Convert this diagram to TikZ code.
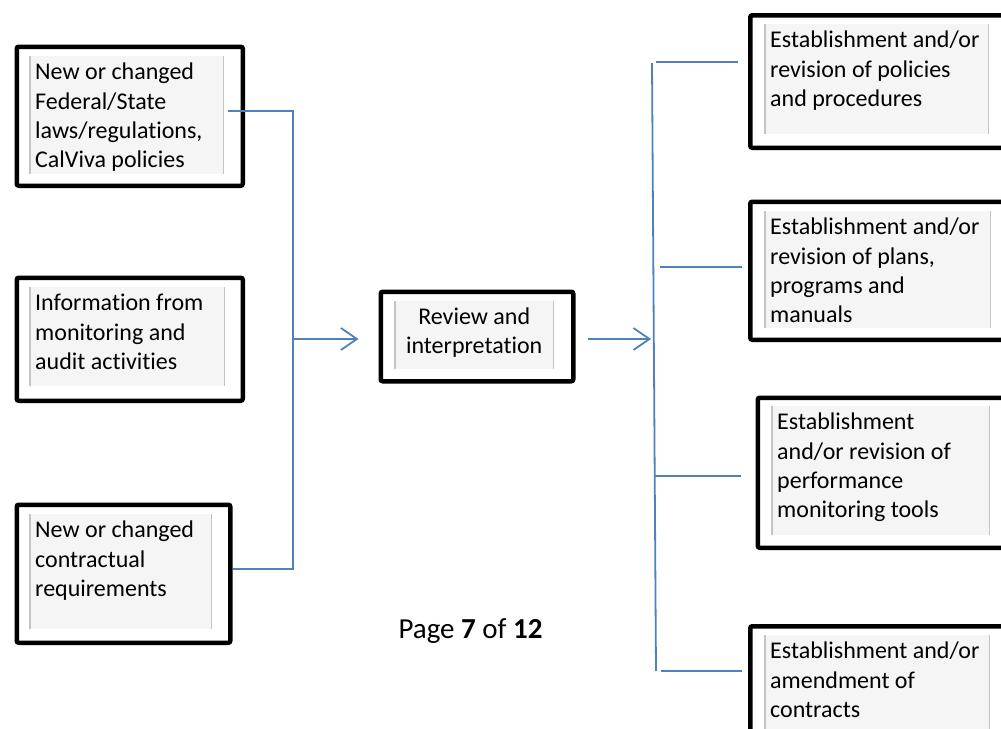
\documentclass[tikz,border=0pt]{standalone}
\usepackage{fontspec}
\setmainfont{Carlito}[Ligatures=NoCommon]
\usetikzlibrary{arrows.meta}
\definecolor{connblue}{RGB}{79,129,189}
\definecolor{innerfill}{RGB}{245,245,245}
\definecolor{innerrule}{RGB}{196,196,196}
\tikzset{
  outerbox/.style={draw=black, line width=4.5pt, rounded corners=2pt, anchor=north west, inner sep=0pt},
  innerbox/.style={fill=innerfill, anchor=north west, inner xsep=5pt, inner ysep=0pt, align=flush left,
    font=\fontsize{24}{29.3}\selectfont, text height=23.5pt,
    execute at begin node={\spaceskip=0pt\xspaceskip=0pt\relax}},
  siderule/.style={draw=innerrule, line width=1.5pt},
  link/.style={draw=connblue, line width=1.8pt},
  arr/.style={link, -{Straight Barb[length=16pt,width=22pt]}},
}
\begin{document}
\begin{tikzpicture}[x=1pt,y=-1pt]
\useasboundingbox (0,0) rectangle (1001,728);
\clip (0,0) rectangle (1001,728);
% outer boxes
\node[outerbox, minimum width=226pt, minimum height=139pt] (Ao) at (14.5,44.5) {};
\node[outerbox, minimum width=226pt, minimum height=123pt] (Bo) at (14.5,275.5) {};
\node[outerbox, minimum width=213.5pt, minimum height=138pt] (Co) at (14.5,502.5) {};
\node[outerbox, minimum width=192.5pt, minimum height=89.5pt] (Mo) at (378.5,289.5) {};
\node[outerbox, minimum width=262pt, minimum height=132.5pt] (R1o) at (748,13) {};
\node[outerbox, minimum width=262pt, minimum height=138pt] (R2o) at (748,199.5) {};
\node[outerbox, minimum width=255pt, minimum height=150pt] (R3o) at (755.5,395.5) {};
\node[outerbox, minimum width=262pt, minimum height=130pt] (R4o) at (748,624) {};
% inner boxes
\node[innerbox, text width=183pt, text depth=94.5pt] (Ai) at (30,56) {New or changed\\Federal/State\\laws/regulations,\\CalViva policies};
\node[innerbox, text width=184pt, text depth=75.5pt] (Bi) at (30,287) {Information from\\monitoring and\\audit activities};
\node[innerbox, text width=171pt, text depth=91.5pt] (Ci) at (30,514) {New or changed\\contractual\\requirements};
\node[innerbox, align=flush center, text width=148pt, text height=23pt, text depth=45pt] (Mi) at (395,301) {Review and\\interpretation};
\node[innerbox, text width=213pt, text depth=86.5pt] (R1i) at (765,24) {Establishment and/or\\revision of policies\\and procedures};
\node[innerbox, text width=215pt, text depth=93.5pt] (R2i) at (765,211) {Establishment and/or\\revision of plans,\\programs and\\manuals};
\node[innerbox, text width=207pt, text depth=105.5pt] (R3i) at (772,406) {Establishment\\and/or revision of\\performance\\monitoring tools};
\node[innerbox, text width=214pt, text depth=110pt] (R4i) at (765,635) {Establishment and/or\\amendment of\\contracts};
\foreach \n in {Ai,Bi,Ci,Mi,R1i,R2i,R3i,R4i}{
  \draw[siderule] (\n.north west) -- (\n.south west) (\n.north east) -- (\n.south east);
}
% page text
\node[font=\fontsize{29}{35}\selectfont, anchor=base, inner sep=0pt] (page) at (470.5,638) {Page \textbf{7} of \textbf{12}};
% left connector
\coordinate (lj1) at (293,111);
\coordinate (lj2) at (293,569);
\coordinate (lmid) at (293,339);
\draw[link] ([xshift=5pt]Ai.east |- lj1) -- (lj1) -- (lj2) -- (Co.east |- lj2);
\draw[arr] (lmid) -- ([xshift=-20pt]Mo.west |- lmid);
% right connector
\coordinate (rs) at (588,339);
\coordinate (rv1) at (652,63);
\coordinate (rv2) at (656,671);
\draw[arr] (rs) -- (651,339);
\draw[link] (rv1) -- (rv2);
\draw[link] (656,62) -- ([xshift=-10pt]R1o.west |- 0,62);
\draw[link] (660,267) -- ([xshift=-6pt]R2o.west |- 0,267);
\draw[link] (655,476) -- ([xshift=-15pt]R3o.west |- 0,476);
\draw[link] (661,671) -- ([xshift=-6pt]R4o.west |- 0,671);
\end{tikzpicture}
\end{document}
